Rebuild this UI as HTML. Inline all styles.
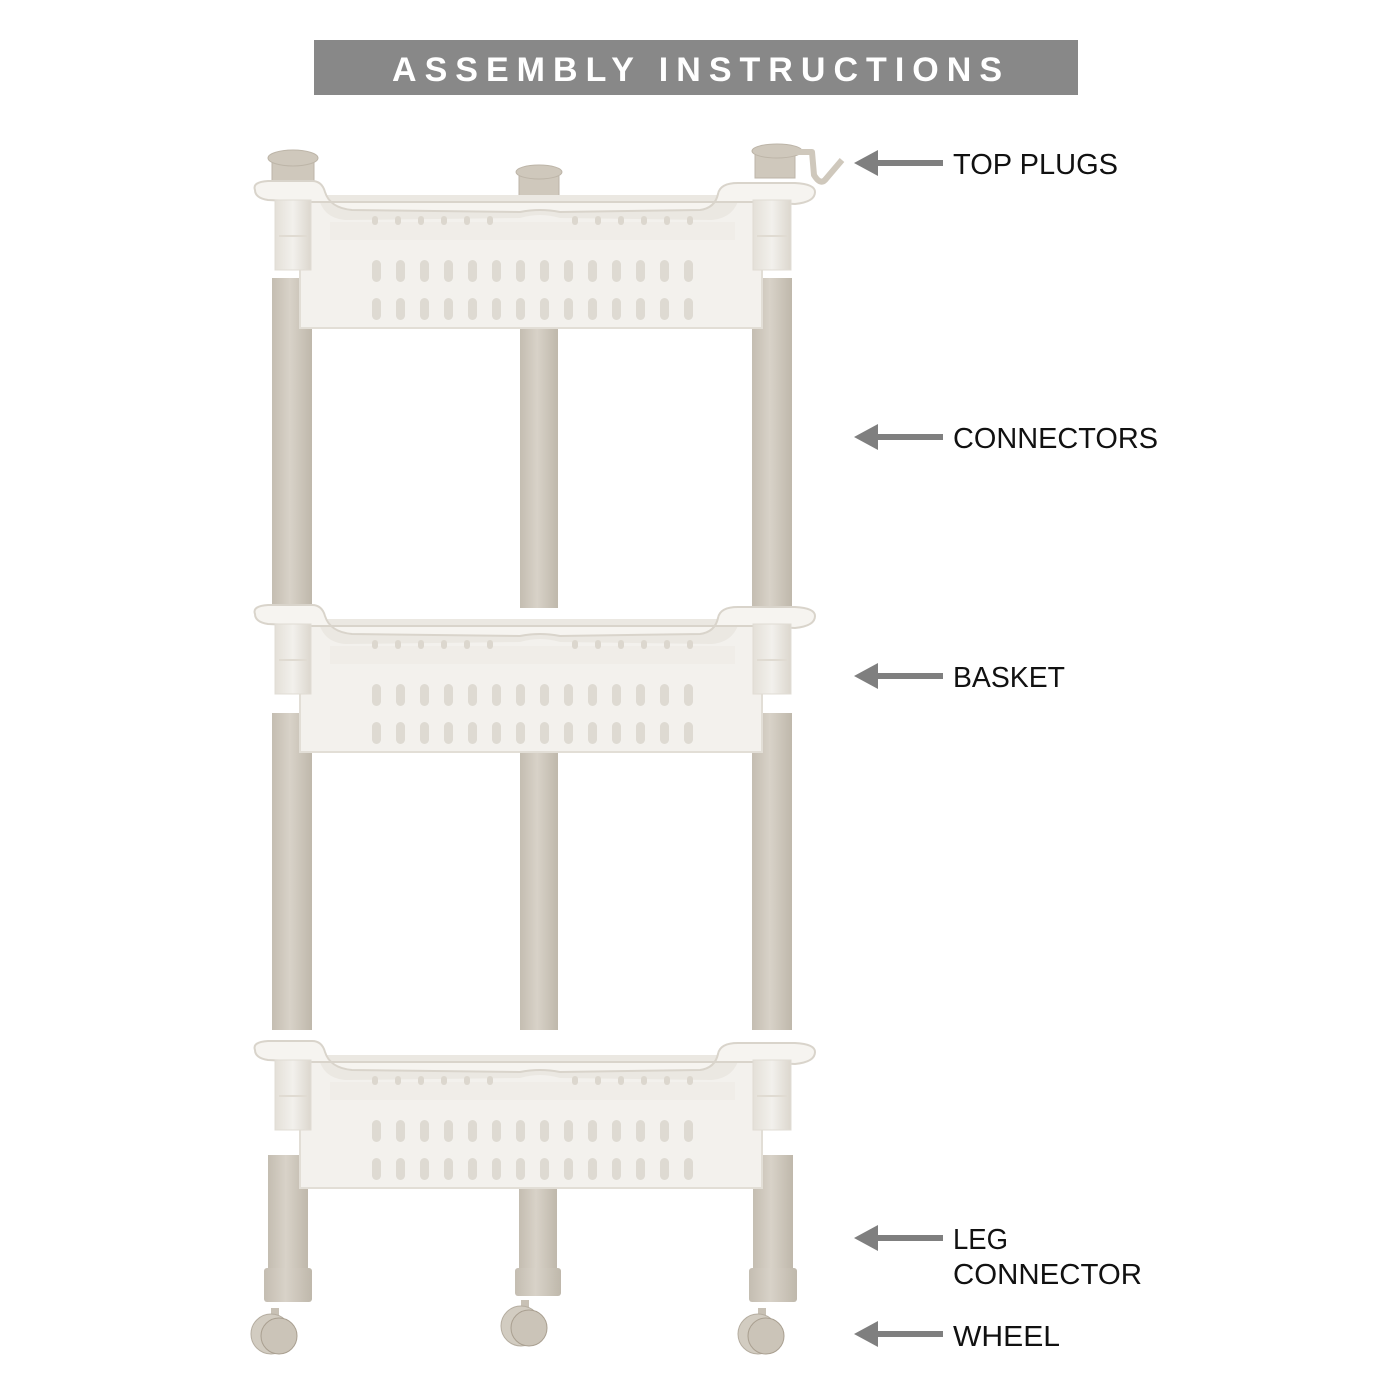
<!DOCTYPE html>
<html><head><meta charset="utf-8"><style>
html,body{margin:0;padding:0;background:#fff;width:1400px;height:1400px;overflow:hidden}
svg{display:block}
</style></head><body>
<svg width="1400" height="1400" viewBox="0 0 1400 1400" xmlns="http://www.w3.org/2000/svg">
<defs>
  <linearGradient id="leg" x1="0" x2="1">
    <stop offset="0" stop-color="#c4bdb1"/><stop offset="0.45" stop-color="#d8d2c8"/><stop offset="1" stop-color="#bfb8ab"/>
  </linearGradient>
  <linearGradient id="post" x1="0" x2="1">
    <stop offset="0" stop-color="#e4e0d8"/><stop offset="0.5" stop-color="#f2f0ec"/><stop offset="1" stop-color="#dcd7ce"/>
  </linearGradient>
  <g id="basket">
    <rect x="300" y="10" width="462" height="128" fill="#f3f1ed" stroke="#e2ded6" stroke-width="2"/>
    <path d="M318 5 Q322 28 345 30 L520 28 Q540 22 560 28 L712 30 Q735 28 740 5 Z" fill="#ebe8e2"/>
    <path d="M330 32 L735 32 L735 50 L330 50 Z" fill="#f0ede8"/>
    <path d="M255 0 Q252 -8 268 -9 L312 -9 Q322 -9 325 2 Q330 18 352 20 L520 22 Q540 18 560 22 L700 20 Q715 18 718 4 Q720 -7 738 -7 L795 -7 Q815 -6 815 2 Q815 12 795 14 L755 12 L312 12 L268 10 Q255 8 255 0 Z" fill="#f6f4f0" stroke="#d9d4cb" stroke-width="2"/>
    <rect x="275" y="10" width="36" height="70" fill="url(#post)" stroke="#e0dcd4"/>
    <rect x="279" y="45" width="28" height="2" fill="#e0dbd2"/>
    <rect x="753" y="10" width="38" height="70" fill="url(#post)" stroke="#e0dcd4"/>
    <rect x="757" y="45" width="30" height="2" fill="#e0dbd2"/>
    <g fill="#dcd7ce">
      <rect x="372" y="26" width="6" height="9" rx="3"/><rect x="395" y="26" width="6" height="9" rx="3"/><rect x="418" y="26" width="6" height="9" rx="3"/><rect x="441" y="26" width="6" height="9" rx="3"/><rect x="464" y="26" width="6" height="9" rx="3"/><rect x="487" y="26" width="6" height="9" rx="3"/>
      <rect x="572" y="26" width="6" height="9" rx="3"/><rect x="595" y="26" width="6" height="9" rx="3"/><rect x="618" y="26" width="6" height="9" rx="3"/><rect x="641" y="26" width="6" height="9" rx="3"/><rect x="664" y="26" width="6" height="9" rx="3"/><rect x="687" y="26" width="6" height="9" rx="3"/>
    </g>
    <g fill="#dedad2">
      <rect x="372" y="70" width="9" height="22" rx="4.5"/><rect x="396" y="70" width="9" height="22" rx="4.5"/><rect x="420" y="70" width="9" height="22" rx="4.5"/><rect x="444" y="70" width="9" height="22" rx="4.5"/><rect x="468" y="70" width="9" height="22" rx="4.5"/><rect x="492" y="70" width="9" height="22" rx="4.5"/><rect x="516" y="70" width="9" height="22" rx="4.5"/><rect x="540" y="70" width="9" height="22" rx="4.5"/><rect x="564" y="70" width="9" height="22" rx="4.5"/><rect x="588" y="70" width="9" height="22" rx="4.5"/><rect x="612" y="70" width="9" height="22" rx="4.5"/><rect x="636" y="70" width="9" height="22" rx="4.5"/><rect x="660" y="70" width="9" height="22" rx="4.5"/><rect x="684" y="70" width="9" height="22" rx="4.5"/>
      <rect x="372" y="108" width="9" height="22" rx="4.5"/><rect x="396" y="108" width="9" height="22" rx="4.5"/><rect x="420" y="108" width="9" height="22" rx="4.5"/><rect x="444" y="108" width="9" height="22" rx="4.5"/><rect x="468" y="108" width="9" height="22" rx="4.5"/><rect x="492" y="108" width="9" height="22" rx="4.5"/><rect x="516" y="108" width="9" height="22" rx="4.5"/><rect x="540" y="108" width="9" height="22" rx="4.5"/><rect x="564" y="108" width="9" height="22" rx="4.5"/><rect x="588" y="108" width="9" height="22" rx="4.5"/><rect x="612" y="108" width="9" height="22" rx="4.5"/><rect x="636" y="108" width="9" height="22" rx="4.5"/><rect x="660" y="108" width="9" height="22" rx="4.5"/><rect x="684" y="108" width="9" height="22" rx="4.5"/>
    </g>
  </g>
  <g id="wheel">
    <rect x="-4" y="-22" width="8" height="14" fill="#c8c1b5"/>
    <circle cx="-4" cy="4" r="20" fill="#d2ccc1" stroke="#b5ada0"/>
    <circle cx="4" cy="6" r="18" fill="#cbc4b8" stroke="#a99f90"/>
  </g>
</defs>

<rect x="314" y="40" width="764" height="55" fill="#888888"/>
<text x="697" y="81" text-anchor="middle" font-family="Liberation Sans, sans-serif" font-weight="bold" font-size="34" fill="#fff" textLength="610" lengthAdjust="spacing">ASSEMBLY INSTRUCTIONS</text>

<g fill="#cfc8bc" stroke="#bdb5a8">
  <rect x="272" y="160" width="42" height="26"/><ellipse cx="293" cy="158" rx="25" ry="8"/>
  <rect x="519" y="172" width="40" height="24"/><ellipse cx="539" cy="172" rx="23" ry="7"/>
  <rect x="755" y="153" width="40" height="25"/><ellipse cx="777" cy="151" rx="25" ry="7"/>
</g>
<path d="M795 152 L812 152 L814 175 Q820 185 825 180 L842 160" fill="none" stroke="#cfc8bc" stroke-width="6" stroke-linejoin="round"/>

<rect x="272" y="278" width="40" height="330" fill="url(#leg)"/>
<rect x="520" y="328" width="38" height="280" fill="url(#leg)"/>
<rect x="752" y="278" width="40" height="330" fill="url(#leg)"/>
<rect x="272" y="713" width="40" height="317" fill="url(#leg)"/>
<rect x="520" y="748" width="38" height="282" fill="url(#leg)"/>
<rect x="752" y="713" width="40" height="317" fill="url(#leg)"/>
<rect x="268" y="1155" width="40" height="115" fill="url(#leg)"/>
<rect x="264" y="1268" width="48" height="34" rx="3" fill="url(#leg)"/>
<rect x="519" y="1185" width="38" height="85" fill="url(#leg)"/>
<rect x="515" y="1268" width="46" height="28" rx="3" fill="url(#leg)"/>
<rect x="753" y="1155" width="40" height="115" fill="url(#leg)"/>
<rect x="749" y="1268" width="48" height="34" rx="3" fill="url(#leg)"/>

<use href="#basket" transform="translate(0,190)"/>
<use href="#basket" transform="translate(0,614)"/>
<use href="#basket" transform="translate(0,1050)"/>

<use href="#wheel" transform="translate(275,1330)"/>
<use href="#wheel" transform="translate(525,1322)"/>
<use href="#wheel" transform="translate(762,1330)"/>

<g fill="#7f7f7f">
  <path d="M854 163 L878 150 L878 160 L943 160 L943 166 L878 166 L878 176 Z"/>
  <path d="M854 437 L878 424 L878 434 L943 434 L943 440 L878 440 L878 450 Z"/>
  <path d="M854 676 L878 663 L878 673 L943 673 L943 679 L878 679 L878 689 Z"/>
  <path d="M854 1238 L878 1225 L878 1235 L943 1235 L943 1241 L878 1241 L878 1251 Z"/>
  <path d="M854 1334 L878 1321 L878 1331 L943 1331 L943 1337 L878 1337 L878 1347 Z"/>
</g>
<g font-family="Liberation Sans, sans-serif" font-size="29" fill="#111">
  <text x="953" y="174" textLength="165" lengthAdjust="spacingAndGlyphs">TOP PLUGS</text>
  <text x="953" y="448" textLength="205" lengthAdjust="spacingAndGlyphs">CONNECTORS</text>
  <text x="953" y="687" textLength="112" lengthAdjust="spacingAndGlyphs">BASKET</text>
  <text x="953" y="1249" textLength="55" lengthAdjust="spacingAndGlyphs">LEG</text>
  <text x="953" y="1284" textLength="189" lengthAdjust="spacingAndGlyphs">CONNECTOR</text>
  <text x="953" y="1346" textLength="107" lengthAdjust="spacingAndGlyphs">WHEEL</text>
</g>
</svg>
</body></html>
